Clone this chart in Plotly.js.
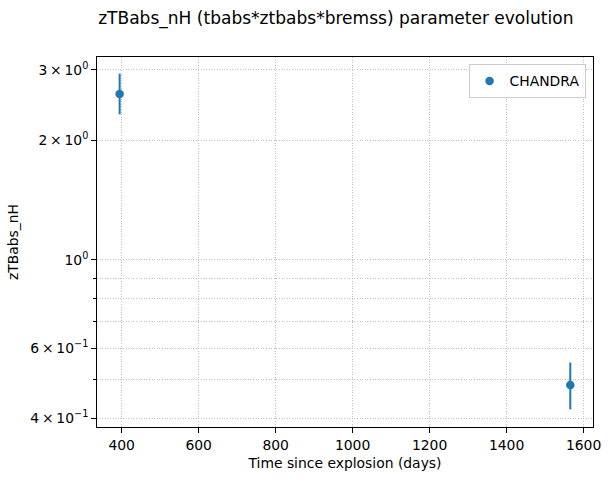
<!DOCTYPE html>
<html>
<head>
<meta charset="utf-8">
<script src="https://cdn.plot.ly/plotly-3.0.1.min.js"></script>
<style>html,body{margin:0;padding:0;background:#fff;}</style>
</head>
<body>
<div id="chart" style="width:610px;height:480px;"></div>
<script>
// Data
const seriesName = "CHANDRA";
const days = [394.8, 1565.4];
const nH = [2.612, 0.4855];
const errPlus = [0.325, 0.067];
const errMinus = [0.291, 0.064];

const yTickVals = [0.4, 0.6, 1, 2, 3];
const yTickText = ["4\u2009\u00d7\u200910<sup>\u22121</sup>", "6\u2009\u00d7\u200910<sup>\u22121</sup>", "10<sup>0</sup>", "2\u2009\u00d7\u200910<sup>0</sup>", "3\u2009\u00d7\u200910<sup>0</sup>"];
const yMinorVals = [0.5, 0.7, 0.8, 0.9];
const xTickVals = [400, 600, 800, 1000, 1200, 1400, 1600];

const blue = "#1f77b4";
const gridCol = "#b0b0b0";
const font = "DejaVu Sans, sans-serif";
const gdash = "1px,1.6px";

const trace = {
  x: days, y: nH, type: "scatter", mode: "markers", name: seriesName,
  marker: {color: blue, size: 8.5},
  error_y: {type: "data", symmetric: false, array: errPlus, arrayminus: errMinus,
            color: blue, thickness: 2, width: 0},
  showlegend: true
};

const layout = {
  width: 610, height: 480,
  margin: {l: 96.7, r: 17.3, t: 57.3, b: 52.7},
  paper_bgcolor: "#fff", plot_bgcolor: "#fff",
  font: {family: font, size: 13.9, color: "#000"},
  title: {text: "zTBabs_nH (tbabs*ztbabs*bremss) parameter evolution",
          font: {size: 17.05, family: font, color: "#000"},
          x: 335.8/610, xref: "container", xanchor: "center",
          y: 1 - 18/480, yref: "container", yanchor: "middle"},
  xaxis: {
    range: [336, 1624.4], tickmode: "array", tickvals: xTickVals,
    ticks: "outside", ticklen: 4.9, tickwidth: 1, tickcolor: "#000",
    showline: true, linecolor: "#000", linewidth: 1, mirror: true,
    showgrid: true, gridcolor: gridCol, gridwidth: 0.8, griddash: gdash,
    zeroline: false,
    title: {text: "Time since explosion (days)", font: {size: 13.9, family: font}, standoff: 6},
    tickfont: {size: 13.9, family: font}
  },
  yaxis: {
    type: "log", range: [Math.log10(0.3807), Math.log10(3.234)],
    tickmode: "array", tickvals: yTickVals, ticktext: yTickText,
    ticks: "outside", ticklen: 4.9, tickwidth: 1, tickcolor: "#000",
    showline: true, linecolor: "#000", linewidth: 1, mirror: true,
    showgrid: true, gridcolor: gridCol, gridwidth: 0.8, griddash: gdash,
    zeroline: false,
    minor: {tickmode: "array", tickvals: yMinorVals, ticks: "outside", ticklen: 2.8,
            tickcolor: "#000", showgrid: true, gridcolor: gridCol, gridwidth: 0.8, griddash: gdash},
    title: {text: "zTBabs_nH", font: {size: 13.9, family: font}, standoff: 8},
    tickfont: {size: 13.9, family: font}
  },
  legend: {
    x: 0.985, y: 0.98, xanchor: "right", yanchor: "top",
    bgcolor: "rgba(255,255,255,0.8)", bordercolor: "#cccccc", borderwidth: 1,
    font: {size: 13.9, family: font}
  }
};

Plotly.newPlot("chart", [trace], layout, {displayModeBar: false, staticPlot: true});
</script>
</body>
</html>
